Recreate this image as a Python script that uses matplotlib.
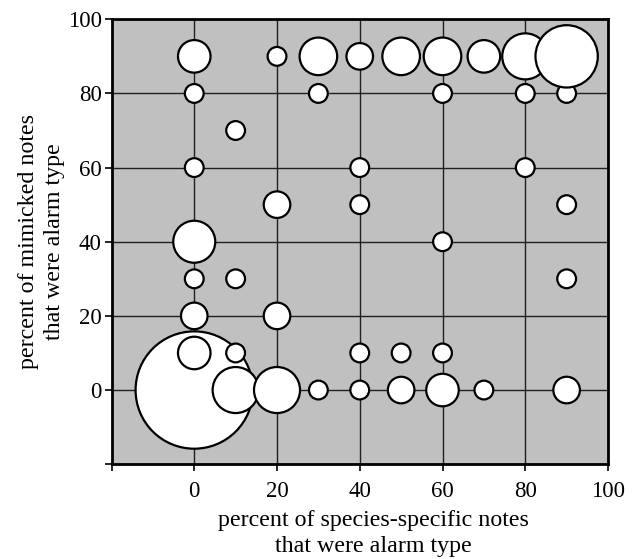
import matplotlib
matplotlib.use("Agg")
import matplotlib.pyplot as plt

# data: (x, y, count) - drawing order by y then x
x_vals = [0, 10, 20, 30, 40, 50, 60, 70, 90,
          0, 10, 40, 50, 60,
          0, 20,
          0, 10, 90,
          0, 60,
          20, 40, 90,
          0, 40, 80,
          10,
          0, 30, 60, 80, 90,
          0, 20, 30, 40, 50, 60, 70, 80, 90]
y_vals = [0, 0, 0, 0, 0, 0, 0, 0, 0,
          10, 10, 10, 10, 10,
          20, 20,
          30, 30, 30,
          40, 40,
          50, 50, 50,
          60, 60, 60,
          70,
          80, 80, 80, 80, 80,
          90, 90, 90, 90, 90, 90, 90, 90, 90]
counts = [39, 6, 6, 1, 1, 2, 3, 1, 2,
          3, 1, 1, 1, 1,
          2, 2,
          1, 1, 1,
          5, 1,
          2, 1, 1,
          1, 1, 1,
          1,
          1, 1, 1, 1, 1,
          3, 1, 4, 2, 4, 4, 3, 6, 11]

tick_vals = [-20, 0, 20, 40, 60, 80, 100]
tick_labels = ['', '0', '20', '40', '60', '80', '100']

plt.rcParams['font.family'] = ['Liberation Serif', 'DejaVu Serif']
plt.rcParams['font.size'] = 16.5

fig = plt.figure(figsize=(6.35, 5.59), dpi=100)
ax = fig.add_axes([0.1756, 0.1696, 0.9575 - 0.1756, 0.9655 - 0.1696])
ax.set_facecolor('#c0c0c0')

ax.set_xlim(-20, 100)
ax.set_ylim(-20, 100)
ax.set_xticks(tick_vals)
ax.set_xticklabels(tick_labels)
ax.set_yticks(tick_vals)
ax.set_yticklabels(tick_labels)

ax.grid(True, color='#202020', linewidth=1.0)
ax.set_axisbelow(True)

sizes = [183 * c for c in counts]
ax.scatter(x_vals, y_vals, s=sizes, facecolor='white', edgecolor='black',
           linewidths=1.6, zorder=3)

for sp in ax.spines.values():
    sp.set_linewidth(2.0)
    sp.set_color('black')

ax.tick_params(direction='out', length=5, width=1.2, pad=2, colors='black',
               labelsize=16.5)
ax.tick_params(axis='x', pad=7)

ax.set_xlabel('percent of species-specific notes\nthat were alarm type',
              fontsize=17.3, linespacing=1.3, labelpad=6)
ax.xaxis.label.set_x(0.527)
ax.set_ylabel('percent of mimicked notes\nthat were alarm type',
              fontsize=17.3, linespacing=1.3, labelpad=2)

fig.savefig('out.png', dpi=100)
